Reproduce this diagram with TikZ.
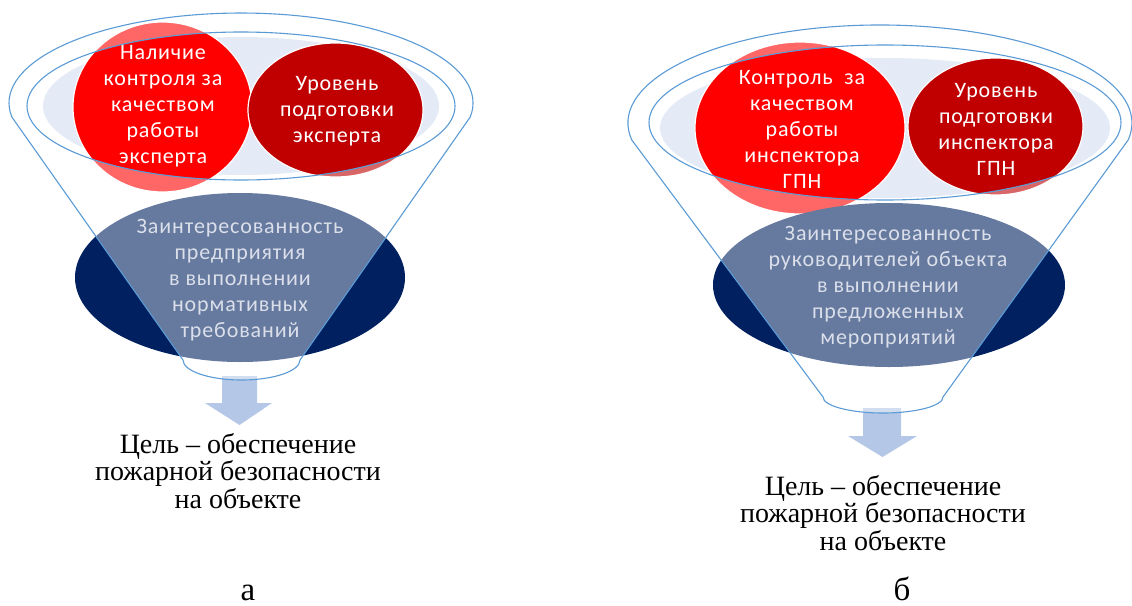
\documentclass[tikz,border=0pt]{standalone}
\usepackage{fontspec}
\setmainfont{Liberation Serif}
\newfontfamily\calib[LetterSpace=4]{Carlito}
\definecolor{funline}{RGB}{91,155,213}
\definecolor{lightfill}{RGB}{228,235,246}
\definecolor{redA}{RGB}{255,0,0}
\definecolor{redB}{RGB}{192,0,0}
\definecolor{navy}{RGB}{0,32,96}
\definecolor{arrowc}{RGB}{180,199,231}
\definecolor{navytext}{RGB}{218,223,234}
\tikzset{
  shapetext/.style={align=center, inner sep=0pt, text=white, font=\calib\fontsize{22}{26}\selectfont},
  navytxt/.style={shapetext, text=navytext},
  goaltext/.style={align=center, inner sep=0pt, font=\fontsize{28}{27.5}\selectfont},
  labeltext/.style={inner sep=0pt, anchor=base, font=\fontsize{33}{34}\selectfont},
  funnelline/.style={draw=funline, line width=1.1pt},
  whiteveil/.style={fill=white, fill opacity=0.4, even odd rule},
  blob/.style={draw=white, line width=1.2pt},
  arrowshape/.style={fill=arrowc, draw=none},
}
\begin{document}
\begin{tikzpicture}[x=1pt, y=-1pt]
\useasboundingbox (0,0) rectangle (1132,605);

% ---------------- left funnel (a) ----------------
\fill[lightfill] (241,106) ellipse [x radius=198, y radius=69];
\fill[redA, blob] (162.5,107) ellipse [x radius=89.5, y radius=85];
\fill[redB, blob] (335.5,110) ellipse [x radius=87.5, y radius=67];
\fill[navy] (240,277.5) ellipse [x radius=165, y radius=84.5];
\fill[arrowshape] (222,376) -- (257,376) -- (257,403) -- (272,403) -- (239.5,425) -- (205,403) -- (222,403) -- cycle;
\fill[whiteveil] (11.9,117.1) arc[start angle=171, end angle=369, x radius=232, y radius=90]
   -- (300,360) arc[start angle=0, end angle=180, x radius=58.5, y radius=20] -- cycle
   (241,106) ellipse [x radius=214, y radius=74];
\draw[funnelline] (11.9,117.1) arc[start angle=171, end angle=369, x radius=232, y radius=90]
   -- (300,360) arc[start angle=0, end angle=180, x radius=58.5, y radius=20] -- cycle;
\draw[funnelline] (241,106) ellipse [x radius=214, y radius=74];

\node[shapetext] (a1) at (163,106) {Наличие\\контроля за\\качеством\\работы\\эксперта};
\node[shapetext] (a2) at (337,111) {Уровень\\подготовки\\эксперта};
\node[navytxt] (a3) at (240,280) {Заинтересованность\\предприятия\\в выполнении\\нормативных\\требований};
\node[goaltext] (ag) at (238,471) {Цель – обеспечение\\пожарной безопасности\\на объекте};
\node[labeltext] (al) at (248,600) {а};

% ---------------- right funnel (b) ----------------
\fill[lightfill] (885,128) ellipse [x radius=225, y radius=70];
\fill[redA, blob] (800,128) ellipse [x radius=105, y radius=86];
\fill[redB, blob] (995.5,126.5) ellipse [x radius=87.5, y radius=68.5];
\fill[navy] (889,285) ellipse [x radius=176, y radius=82];
\fill[arrowshape] (863,408) -- (901,408) -- (901,436) -- (917,436) -- (882.5,457) -- (848,436) -- (863,436) -- cycle;
\fill[whiteveil] (631.8,140) arc[start angle=170, end angle=370, x radius=252, y radius=98]
   -- (943,397) arc[start angle=0, end angle=180, x radius=60, y radius=16] -- cycle
   (885,122.5) ellipse [x radius=236, y radius=77.5];
\draw[funnelline] (631.8,140) arc[start angle=170, end angle=370, x radius=252, y radius=98]
   -- (943,397) arc[start angle=0, end angle=180, x radius=60, y radius=16] -- cycle;
\draw[funnelline] (885,122.5) ellipse [x radius=236, y radius=77.5];

\node[shapetext] (b1) at (802,129) {Контроль\ \ за\\качеством\\работы\\инспектора\\ГПН};
\node[shapetext] (b2) at (996,129) {Уровень\\подготовки\\инспектора\\ГПН};
\node[navytxt] (b3) at (888,287) {Заинтересованность\\руководителей объекта\\в выполнении\\предложенных\\мероприятий};
\node[goaltext] (bg) at (883,513) {Цель – обеспечение\\пожарной безопасности\\на объекте};
\node[labeltext] (bl) at (902,600) {б};
\end{tikzpicture}
\end{document}
